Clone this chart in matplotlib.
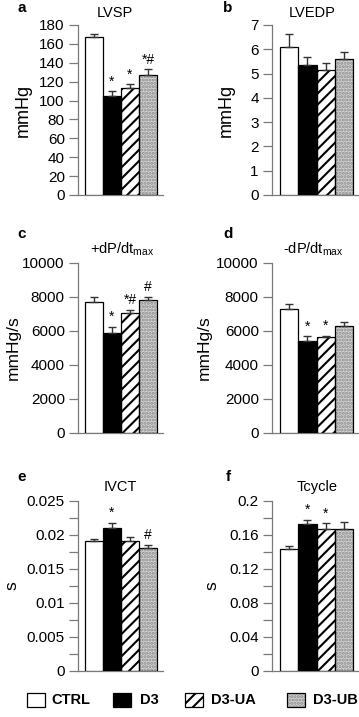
import matplotlib
matplotlib.use("Agg")
import matplotlib.pyplot as plt
from matplotlib.patches import Rectangle
from matplotlib.ticker import MultipleLocator

plt.rcParams['font.family'] = ['Liberation Sans', 'DejaVu Sans']
plt.rcParams['hatch.linewidth'] = 1.5

groups = ["CTRL", "D3", "D3-UA", "D3-UB"]

lvsp_mean = [167, 105, 113, 127]
lvsp_err = [3, 5, 4, 6]
lvsp_sig = ["", "*", "*", "*#"]

lvedp_mean = [6.1, 5.35, 5.15, 5.6]
lvedp_err = [0.55, 0.35, 0.28, 0.3]
lvedp_sig = ["", "", "", ""]

dpdt_max_mean = [7700, 5900, 7050, 7800]
dpdt_max_err = [300, 350, 200, 200]
dpdt_max_sig = ["", "*", "*#", "#"]

dpdt_min_mean = [7300, 5400, 5650, 6300]
dpdt_min_err = [300, 300, 80, 250]
dpdt_min_sig = ["", "*", "*", ""]

ivct_mean = [0.019, 0.021, 0.019, 0.018]
ivct_err = [0.0004, 0.0007, 0.0006, 0.0005]
ivct_sig = ["", "*", "", "#"]

tcycle_mean = [0.143, 0.172, 0.167, 0.166]
tcycle_err = [0.003, 0.005, 0.006, 0.009]
tcycle_sig = ["", "*", "*", ""]

W, H = 359, 717
fig = plt.figure(figsize=(W / 100, H / 100), dpi=100)

GRAY = '#7a7a7a'
faces = ['white', 'black', 'white', '#d2d2d2']
hatches = [None, None, '///', '.....']
hatch_colors = [None, None, 'black', '#8c8c8c']


def ax_rect(x0, x1, ytop, ybot):
    return [x0 / W, 1 - ybot / H, (x1 - x0) / W, (ybot - ytop) / H]


panels = [
    dict(letter='a', title='LVSP', ylabel='mmHg', mean=lvsp_mean, err=lvsp_err, sig=lvsp_sig,
         ylim=(0, 180), major=20, minor=None, col=0, row=0, lsize=13),
    dict(letter='b', title='LVEDP', ylabel='mmHg', mean=lvedp_mean, err=lvedp_err, sig=lvedp_sig,
         ylim=(0, 7), major=1, minor=None, col=1, row=0, lsize=13),
    dict(letter='c', title='+dP/dt$_{\\mathregular{max}}$', ylabel='mmHg/s', mean=dpdt_max_mean,
         err=dpdt_max_err, sig=dpdt_max_sig, ylim=(0, 10000), major=2000, minor=None,
         col=0, row=1, lsize=12.5),
    dict(letter='d', title='-dP/dt$_{\\mathregular{max}}$', ylabel='mmHg/s', mean=dpdt_min_mean,
         err=dpdt_min_err, sig=dpdt_min_sig, ylim=(0, 10000), major=2000, minor=None,
         col=1, row=1, lsize=12.5),
    dict(letter='e', title='IVCT', ylabel='s', mean=ivct_mean, err=ivct_err, sig=ivct_sig,
         ylim=(0, 0.025), major=0.005, minor=0.0025, col=0, row=2, lsize=12.5),
    dict(letter='f', title='Tcycle', ylabel='s', mean=tcycle_mean, err=tcycle_err, sig=tcycle_sig,
         ylim=(0, 0.2), major=0.04, minor=0.02, col=1, row=2, lsize=12.5),
]

cols = [dict(x0=78, x1=163, bar0=85, unit=18.0, ylab_x=[23, 13, 12], title_x=[115, 122, 120], letter_x=22),
        dict(x0=272, x1=358, bar0=280, unit=18.25, ylab_x=[226, 204, 212], title_x=[312, 313, 317], letter_x=228)]
rows = [dict(top=25, bot=195, title_y=13, letter_y=8),
        dict(top=263, bot=433, title_y=249, letter_y=234),
        dict(top=500.5, bot=670.5, title_y=487, letter_y=477)]


def fmt_e(v, pos):
    if abs(v) < 1e-12:
        return '0'
    return ('%g' % v)


for p in panels:
    c = cols[p['col']]
    r = rows[p['row']]
    ax = fig.add_axes(ax_rect(c['x0'], c['x1'], r['top'], r['bot']))
    xs = list(range(len(groups)))
    for i in xs:
        hc = hatch_colors[i]
        if hatches[i]:
            ax.bar(i, p['mean'][i], width=1.0, color=faces[i], edgecolor=hc,
                   hatch=hatches[i], linewidth=0, zorder=2)
            ax.bar(i, p['mean'][i], width=1.0, color='none', edgecolor='black',
                   linewidth=0.9, zorder=3)
        else:
            ax.bar(i, p['mean'][i], width=1.0, color=faces[i], edgecolor='black',
                   linewidth=0.9, zorder=3)
    ax.errorbar(xs, p['mean'], yerr=[[0] * 4, p['err']], fmt='none', ecolor='#333333',
                elinewidth=1.0, capsize=2.8, capthick=1.0, zorder=4)
    for i in xs:
        if p['sig'][i]:
            ax.annotate(p['sig'][i], (i, p['mean'][i] + p['err'][i]), xytext=(0, 2),
                        textcoords='offset points', ha='center', va='bottom', fontsize=10,
                        zorder=5)
    left = -0.5 - (c['bar0'] - c['x0']) / c['unit']
    right = left + (c['x1'] - c['x0']) / c['unit']
    ax.set_xlim(left, right)
    ax.set_ylim(*p['ylim'])
    ax.yaxis.set_major_locator(MultipleLocator(p['major']))
    if p['minor']:
        ax.yaxis.set_minor_locator(MultipleLocator(p['minor']))
    ax.yaxis.set_major_formatter(plt.FuncFormatter(fmt_e))
    ax.set_xticks([])
    for s in ['top', 'right']:
        ax.spines[s].set_visible(False)
    for s in ['left', 'bottom']:
        ax.spines[s].set_color(GRAY)
        ax.spines[s].set_linewidth(0.9)
    ax.tick_params(axis='y', which='major', length=6.5, width=0.9, color=GRAY, pad=3,
                   labelsize=11, direction='out')
    ax.tick_params(axis='y', which='minor', length=6.5, width=0.9, color=GRAY, direction='out')
    ax.patch.set_visible(False)
    ylx = c['ylab_x'][p['row']]
    ax.set_ylabel(p['ylabel'], fontsize=p['lsize'])
    ax.yaxis.set_label_coords((ylx - c['x0']) / (c['x1'] - c['x0']), 0.5)
    ax.yaxis.label.set_va('center')
    fig.text(c['title_x'][p['row']] / W, 1 - r['title_y'] / H, p['title'], ha='center',
             va='center', fontsize=10.5)
    fig.text(c['letter_x'] / W, 1 - r['letter_y'] / H, p['letter'], ha='center', va='center',
             fontsize=11, fontweight='bold')

leg_boxes = [27, 113, 185, 287]
leg_text = [51, 140, 211, 313]
ly = 700
for i, g in enumerate(groups):
    x0 = leg_boxes[i]
    rect_args = dict(xy=(x0 / W, 1 - (ly + 7) / H), width=18 / W, height=14 / H,
                     transform=fig.transFigure)
    if hatches[i]:
        fig.patches.append(Rectangle(facecolor=faces[i], edgecolor=hatch_colors[i],
                                     hatch=hatches[i], linewidth=0, **rect_args))
        fig.patches.append(Rectangle(facecolor='none', edgecolor='black', linewidth=0.9,
                                     **rect_args))
    else:
        fig.patches.append(Rectangle(facecolor=faces[i], edgecolor='black', linewidth=0.9,
                                     **rect_args))
    fig.text(leg_text[i] / W, 1 - ly / H, g, ha='left', va='center', fontsize=10.5,
             fontweight='bold')

fig.savefig('out.png', dpi=100)
